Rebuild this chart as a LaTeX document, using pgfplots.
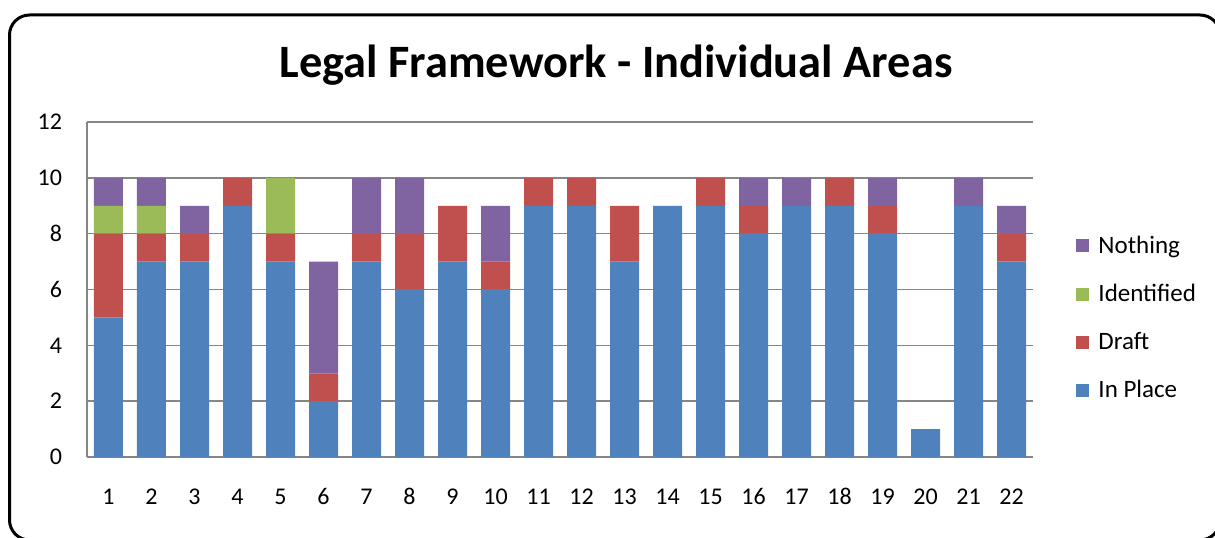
\documentclass[border=0pt]{standalone}
\usepackage{pgfplots}
\pgfplotsset{compat=1.18}
\usepackage{pgfplotstable}
\usepackage{fontspec}
\setmainfont{Carlito}
\definecolor{cBlue}{HTML}{4F81BD}
\definecolor{cRed}{HTML}{C0504D}
\definecolor{cGreen}{HTML}{9BBB59}
\definecolor{cPurple}{HTML}{8064A2}
\definecolor{cGrid}{RGB}{134,134,134}
\pgfplotstableread{
x inplace draft identified nothing
1 5 3 1 1
2 7 1 1 1
3 7 1 0 1
4 9 1 0 0
5 7 1 2 0
6 2 1 0 4
7 7 1 0 2
8 6 2 0 2
9 7 2 0 0
10 6 1 0 2
11 9 1 0 0
12 9 1 0 0
13 7 2 0 0
14 9 0 0 0
15 9 1 0 0
16 8 1 0 1
17 9 0 0 1
18 9 1 0 0
19 8 1 0 1
20 1 0 0 0
21 9 0 0 1
22 7 1 0 1
}\datatable
\begin{document}
\begin{tikzpicture}
\path[use as bounding box] (0,0) rectangle (607.5pt,268.5pt);
\draw[line width=1.5pt, rounded corners=10pt] (4.75pt,261pt) rectangle (610pt,-1.5pt);
\node[font=\fontsize{23.2}{27}\selectfont\bfseries] at (308pt,236pt) {Legal Framework - Individual Areas};
\begin{axis}[
  at={(43.5pt,40pt)}, anchor=south west,
  scale only axis, width=473pt, height=167.5pt,
  ybar stacked, bar width=14.5pt,
  xmin=0.5, xmax=22.5, ymin=0, ymax=12,
  xtick={1,...,22}, ytick={0,2,...,12},
  axis x line*=bottom, axis y line*=left,
  axis line style={draw=cGrid, line width=0.75pt},
  ymajorgrids, grid style={draw=cGrid, line width=0.75pt},
  major tick length=0pt,
  tick label style={font=\fontsize{12}{14}\selectfont, text=black},
  /pgf/number format/assume math mode=true,
  yticklabel style={xshift=-9pt},
  xticklabel style={yshift=-12.5pt, text height=7.6pt, text depth=0pt},
  reverse legend,
  legend style={draw=none, fill=none, at={(1.0455,0.414)}, anchor=west, inner sep=0pt,
    font=\fontsize{12.5}{15}\selectfont, row sep=10pt, column sep=0pt},
  legend cell align=left,
  legend image code/.code={\fill[#1] (0pt,-3.25pt) rectangle (6.5pt,3.25pt); \path (9pt,0pt);},
]
\addplot[fill=cBlue, draw=none] table[x=x, y=inplace] {\datatable};
\addlegendentry{In Place}
\addplot[fill=cRed, draw=none] table[x=x, y=draft] {\datatable};
\addlegendentry{Draft}
\addplot[fill=cGreen, draw=none] table[x=x, y=identified] {\datatable};
\addlegendentry{Identified}
\addplot[fill=cPurple, draw=none] table[x=x, y=nothing] {\datatable};
\addlegendentry{Nothing}
\end{axis}
\end{tikzpicture}
\end{document}
